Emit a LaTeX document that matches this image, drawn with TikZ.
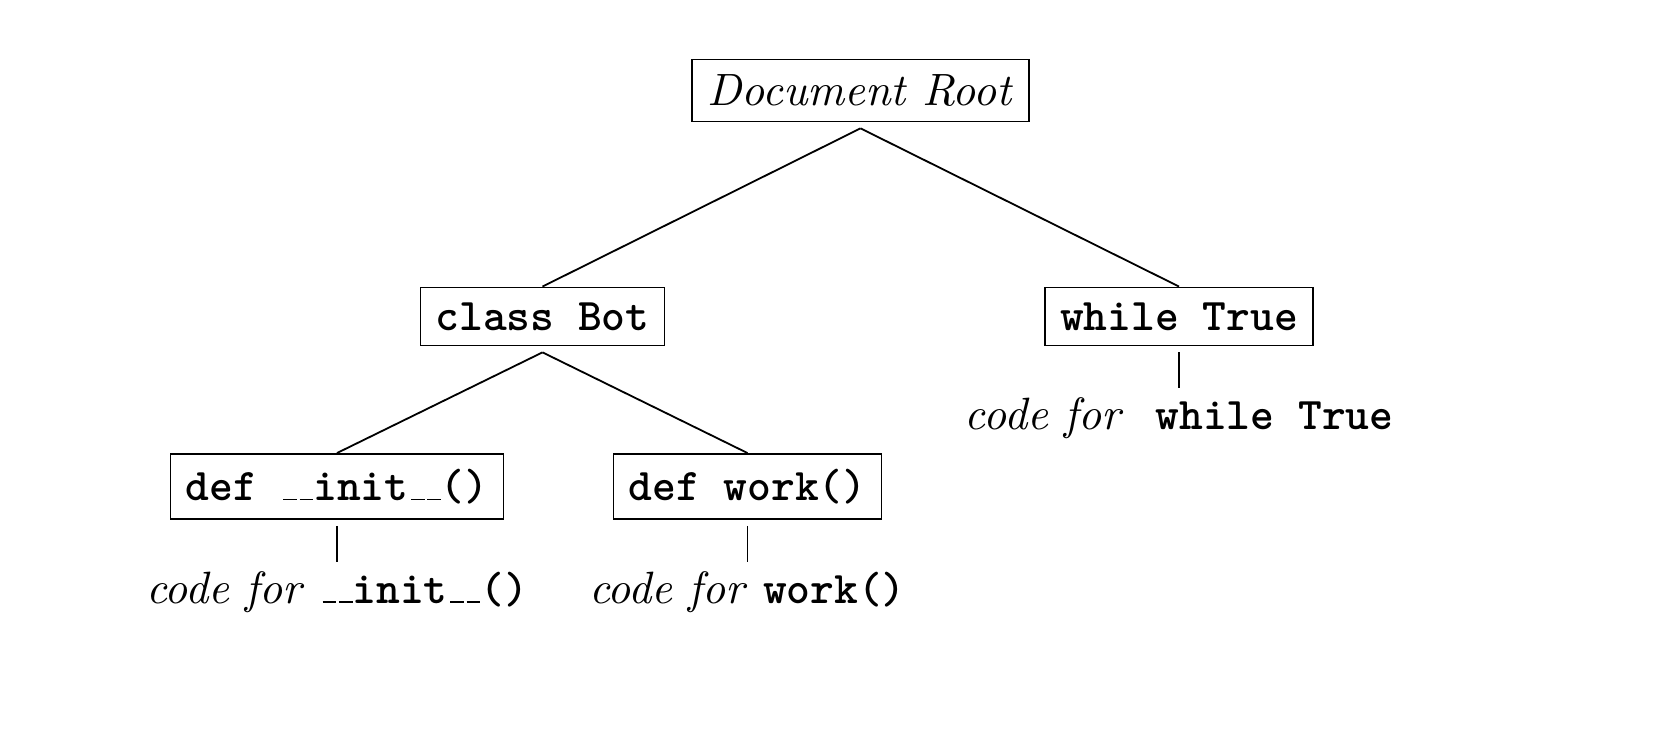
\documentclass[tikz,border=0pt]{standalone}
\newcommand\myus{\kern.06em\vbox{\hrule width.3em}}
\tikzset{
  box/.style={draw, thin, inner sep=3.33pt},
  leaf/.style={inner sep=1.8pt, anchor=base},
  edge/.style={thin}
}
\begin{document}
\begin{tikzpicture}[x=0.2208pt, y=-0.2208pt]
\useasboundingbox (0,0) rectangle (1660,740);
\node[box] (root) at (860.5,90.5) {\textit{Document Root}};
\node[box] (bot) at (542.5,316.5) {\texttt{\textbf{class Bot}}};
\node[box] (while) at (1179,316.5) {\texttt{\textbf{while True}}};
\node[box] (init) at (337,486.5) {\texttt{\textbf{def \myus\myus init\myus\myus()}}};
\node[box] (work) at (747.5,486.5) {\texttt{\textbf{def work()}}};
\node[leaf] (linit) at (337,603) {\textit{code for} \texttt{\textbf{\myus\myus init\myus\myus()}}};
\node[leaf] (lwork) at (747.5,603) {\textit{code for} \texttt{\textbf{work()}}};
\node[leaf] (lwhile) at (1179,429) {\textit{code for}\hspace{3.8pt} \texttt{\textbf{while True}}};
\draw[edge] ([yshift=-1.3pt]root.south) -- (bot.north);
\draw[edge] ([yshift=-1.3pt]root.south) -- (while.north);
\draw[edge] ([yshift=-1.3pt]bot.south) -- (init.north);
\draw[edge] ([yshift=-1.3pt]bot.south) -- (work.north);
\draw[edge] ([yshift=-1.3pt]while.south) -- (lwhile.north);
\draw[edge] ([yshift=-1.3pt]init.south) -- (linit.north);
\draw[edge] ([yshift=-1.3pt]work.south) -- (lwork.north);
\end{tikzpicture}
\end{document}
